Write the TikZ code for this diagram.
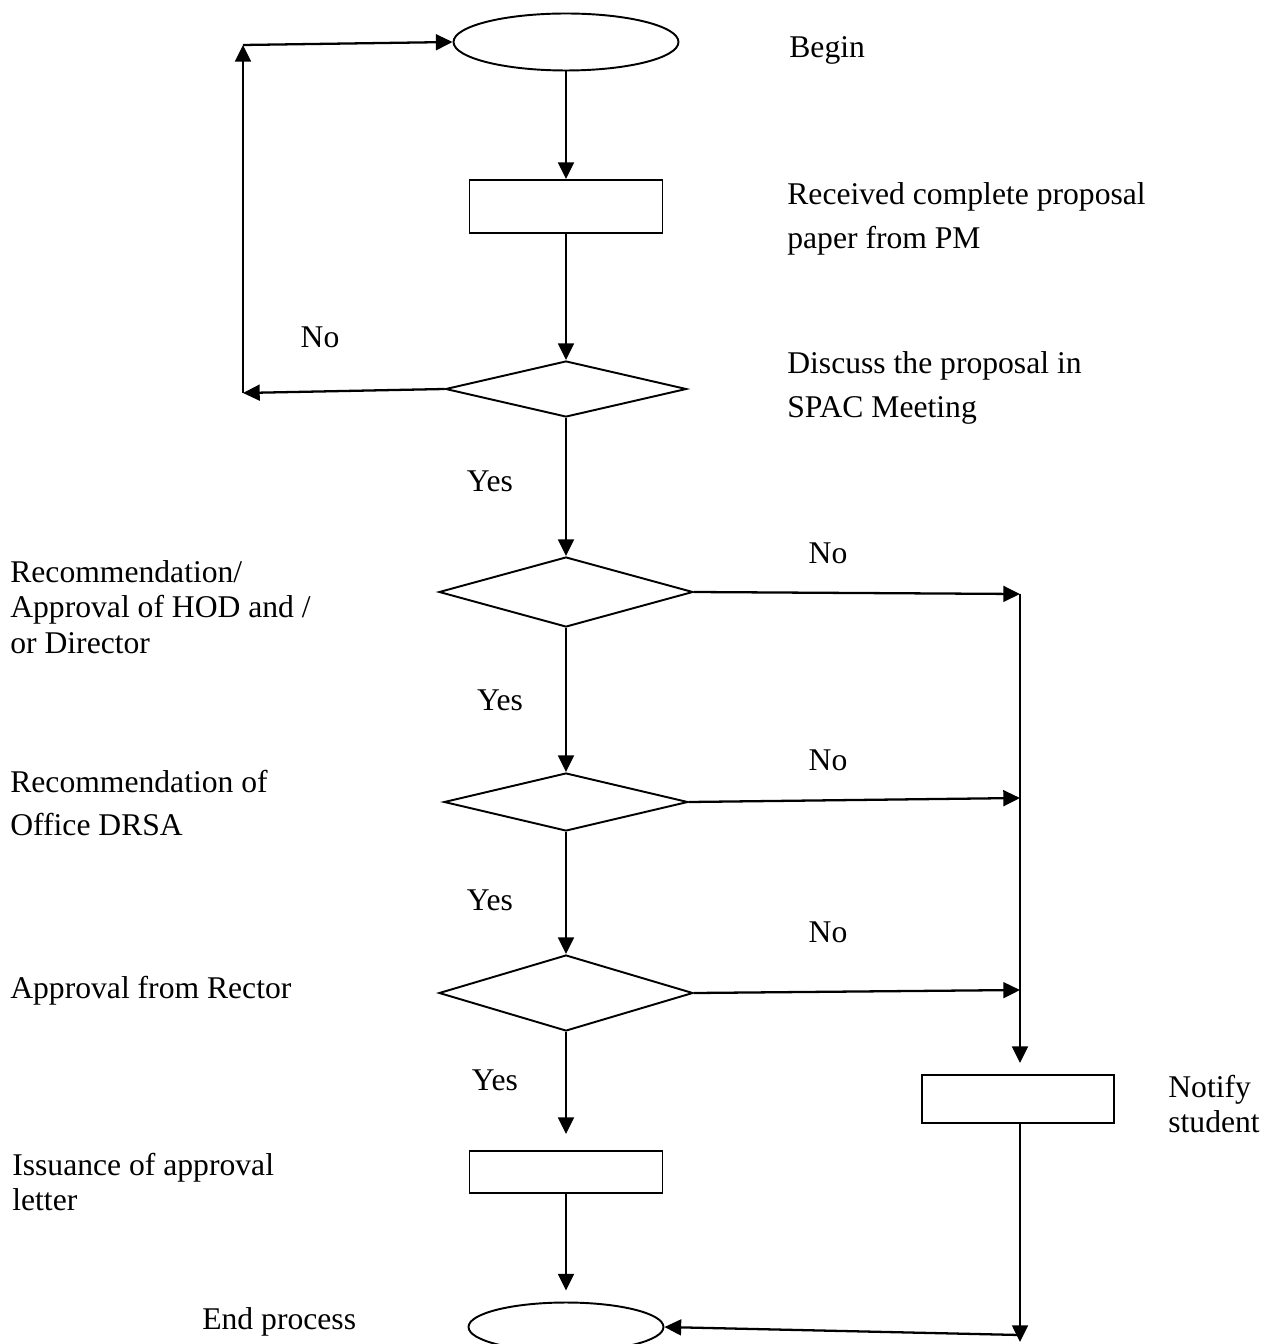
\documentclass[tikz,border=0pt]{standalone}
\usepackage{fontspec}
\setmainfont{Liberation Serif}
\usetikzlibrary{positioning}
\usetikzlibrary{arrows.meta}
\usetikzlibrary{shapes.geometric}

\tikzset{
    flow/.style={-{Triangle[length=9.5pt,width=9pt]}, line width=1.3pt},
    terminal/.style={draw, ellipse, line width=1.1pt, inner sep=0pt},
    process/.style={draw, rectangle, line width=1.1pt, inner sep=0pt},
    decision/.style={draw, diamond, line width=1.1pt, inner sep=0pt},
    note/.style={inner sep=0pt, align=left, font=\fontsize{18}{25}\selectfont},
    tightnote/.style={note, font=\fontsize{18}{20.3}\selectfont},
}

\begin{document}
\begin{tikzpicture}[x=0.02cm, y=-0.02cm]
    \useasboundingbox (0,0) rectangle (1268,1344);

    % Draw the main column
    \node[terminal, minimum width=4.5cm, minimum height=1.14cm] (begin) at (566,42) {};
    \node[process, minimum width=3.86cm, minimum height=1.06cm] (receive) at (566,206.5) {};
    \node[decision, minimum width=4.82cm, minimum height=1.12cm] (spac) at (566,389) {};
    \node[decision, minimum width=5.08cm, minimum height=1.4cm] (hod) at (566,592) {};
    \node[decision, minimum width=4.88cm, minimum height=1.16cm] (drsa) at (566,802) {};
    \node[decision, minimum width=5.08cm, minimum height=1.52cm] (rector) at (566,993) {};
    \node[process, minimum width=3.86cm, minimum height=0.84cm] (letter) at (566,1172) {};
    \node[terminal, minimum width=3.9cm, minimum height=0.98cm] (end) at (566,1327) {};
    \node[process, minimum width=3.84cm, minimum height=0.96cm] (notify) at (1018,1099) {};

    % Connect the main column
    \draw[flow] (begin) -- (receive);
    \draw[flow] (receive) -- (spac);
    \draw[flow] (spac) -- (hod);
    \draw[flow] (hod) -- (drsa);
    \draw[flow] (drsa) -- (rector);
    \draw[flow, shorten >=0.32cm] (rector) -- (letter);
    \draw[flow, shorten >=0.22cm] (letter) -- (end);

    % Loop back to the start
    \coordinate (loopLow) at (243,393);
    \coordinate (loopTop) at (243,45);
    \draw[flow] (spac.west) -- (loopLow);
    \draw[flow] (loopLow) -- (loopTop);
    \draw[flow] (loopTop) -- (begin.west);

    % Rejections on the right
    \coordinate (noHod) at (1020,594);
    \coordinate (noDrsa) at (1020,798);
    \coordinate (noRector) at (1020,990);
    \coordinate (noBottom) at (1020,1342);
    \coordinate (backEnd) at (1020,1335);
    \draw[flow] (hod.east) -- (noHod);
    \draw[flow] (drsa.east) -- (noDrsa);
    \draw[flow] (rector.east) -- (noRector);
    \draw[flow, shorten >=0.22cm] (noHod) -- (noHod |- notify.north);
    \draw[flow] (noHod |- notify.south) -- (noBottom);
    \draw[flow] (backEnd) -- (end.east);

    % Add labels
    \node[note, anchor=west] (beginText) at (789,50) {Begin};
    \node[note, anchor=west] (receiveText) at (787,219) {Received complete proposal\\paper from PM};
    \node[note, anchor=west] (spacText) at (787,388) {Discuss the proposal in\\SPAC Meeting};
    \node[tightnote, anchor=west] (hodText) at (10,607) {Recommendation/\\Approval of HOD and /\\or Director};
    \node[note, anchor=west] (drsaText) at (10,803) {Recommendation of\\Office DRSA};
    \node[note, anchor=west] (rectorText) at (10,991) {Approval from Rector};
    \node[tightnote, anchor=west] (notifyText) at (1168,1104) {Notify\\student};
    \node[tightnote, anchor=west] (letterText) at (12,1182) {Issuance of approval\\letter};
    \node[note, anchor=west] (endText) at (202,1322) {End process};

    % Yes and No
    \node[note] (noSpac) at (320,337) {No};
    \node[note] (yesSpac) at (490,481) {Yes};
    \node[note] (noHodText) at (828,553) {No};
    \node[note] (yesHod) at (500,700) {Yes};
    \node[note] (noDrsaText) at (828,760) {No};
    \node[note] (yesDrsa) at (490,900) {Yes};
    \node[note] (noRectorText) at (828,932) {No};
    \node[note] (yesRector) at (495,1080) {Yes};

\end{tikzpicture}
\end{document}
